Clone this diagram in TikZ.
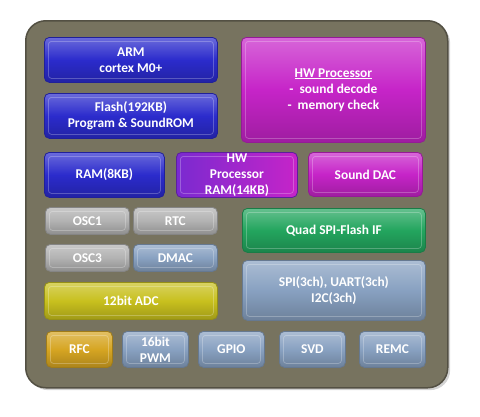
\documentclass[tikz,border=0pt]{standalone}
\usepackage{fontspec}
\setmainfont{Carlito}
\usetikzlibrary{shadows}
\definecolor{chipgray}{HTML}{77735F}
\definecolor{armblue}{HTML}{2B2BCC}
\definecolor{hwmag}{HTML}{C624C8}
\definecolor{hwpurple}{HTML}{7A2AD0}
\definecolor{oscgray}{HTML}{B2B2B2}
\definecolor{periblue}{HTML}{88A1C1}
\definecolor{adcyellow}{HTML}{C8C01E}
\definecolor{rfcorange}{HTML}{D6A522}
\definecolor{qspigreen}{HTML}{23A55E}
\tikzset{
  blk/.style={rounded corners=5pt, anchor=north west, inner sep=0pt, align=center,
    draw=#1!75!black, line width=0.8pt, top color=#1!70!white, bottom color=#1!80!black,
    middle color=#1, text=white, font=\fontsize{13.4}{16}\selectfont\bfseries,
    path picture={\draw[white, opacity=0.25, line width=0.8pt, rounded corners=3pt]
      ([shift={(4pt,-4pt)}]path picture bounding box.north west) rectangle
      ([shift={(-4pt,4pt)}]path picture bounding box.south east);}},
}
\begin{document}
\begin{tikzpicture}[x=1pt,y=-1pt]
		\useasboundingbox (0,0) rectangle (480,416);
		%Khung chip
		\node[rounded corners=20pt, fill=chipgray, draw=chipgray!70!black, line width=1.5pt, drop shadow={opacity=0.35}, anchor=north west, inner sep=0pt, minimum width=422pt, minimum height=367pt] (chip) at (25,20) {};
		%Cot trai
		\node[blk=armblue, minimum width=173pt, minimum height=45pt] (arm) at (44,37) {ARM\\cortex M0+};
		\node[blk=armblue, minimum width=173pt, minimum height=45pt] (flash) at (44,93) {Flash(192KB)\\Program \& SoundROM};
		\node[blk=armblue, minimum width=120pt, minimum height=45pt] (ram) at (44,152) {RAM(8KB)};
		\node[blk=hwpurple, left color=hwpurple, right color=hwmag, minimum width=121pt, minimum height=45pt] (hwram) at (176,152) {HW\\Processor\\RAM(14KB)};
		%Cot phai
		\node[blk=hwmag, minimum width=184pt, minimum height=105pt] (hwp) at (241,37) {\underline{HW Processor}\\-\ \ sound decode\\-\ \ memory check};
		\node[blk=hwmag, minimum width=114pt, minimum height=44pt] (dac) at (308,152) {Sound DAC};
		%Khoi nho
		\node[blk=oscgray, minimum width=84pt, minimum height=27pt] (osc1) at (45,207) {OSC1};
		\node[blk=oscgray, minimum width=84pt, minimum height=27pt] (rtc) at (133,207) {RTC};
		\node[blk=oscgray, minimum width=84pt, minimum height=27pt] (osc3) at (45,244) {OSC3};
		\node[blk=periblue, minimum width=84pt, minimum height=27pt] (dmac) at (133,244) {DMAC};
		\node[blk=adcyellow, minimum width=173pt, minimum height=37pt] (adc) at (44,282) {12bit ADC};
		\node[blk=qspigreen, minimum width=183pt, minimum height=44pt] (qspi) at (242,208) {Quad SPI-Flash IF};
		\node[blk=periblue, minimum width=183pt, minimum height=60pt] (serial) at (242,260) {SPI(3ch), UART(3ch)\\I2C(3ch)};
		%Hang duoi
		\node[blk=rfcorange, minimum width=66pt, minimum height=36pt] (rfc) at (46,331) {RFC};
		\node[blk=periblue, minimum width=66pt, minimum height=36pt] (pwm) at (122,331) {16bit\\PWM};
		\node[blk=periblue, minimum width=66pt, minimum height=36pt] (gpio) at (198,331) {GPIO};
		\node[blk=periblue, minimum width=66pt, minimum height=36pt] (svd) at (279,331) {SVD};
		\node[blk=periblue, minimum width=66pt, minimum height=36pt] (remc) at (359,331) {REMC};
		\end{tikzpicture}
\end{document}
